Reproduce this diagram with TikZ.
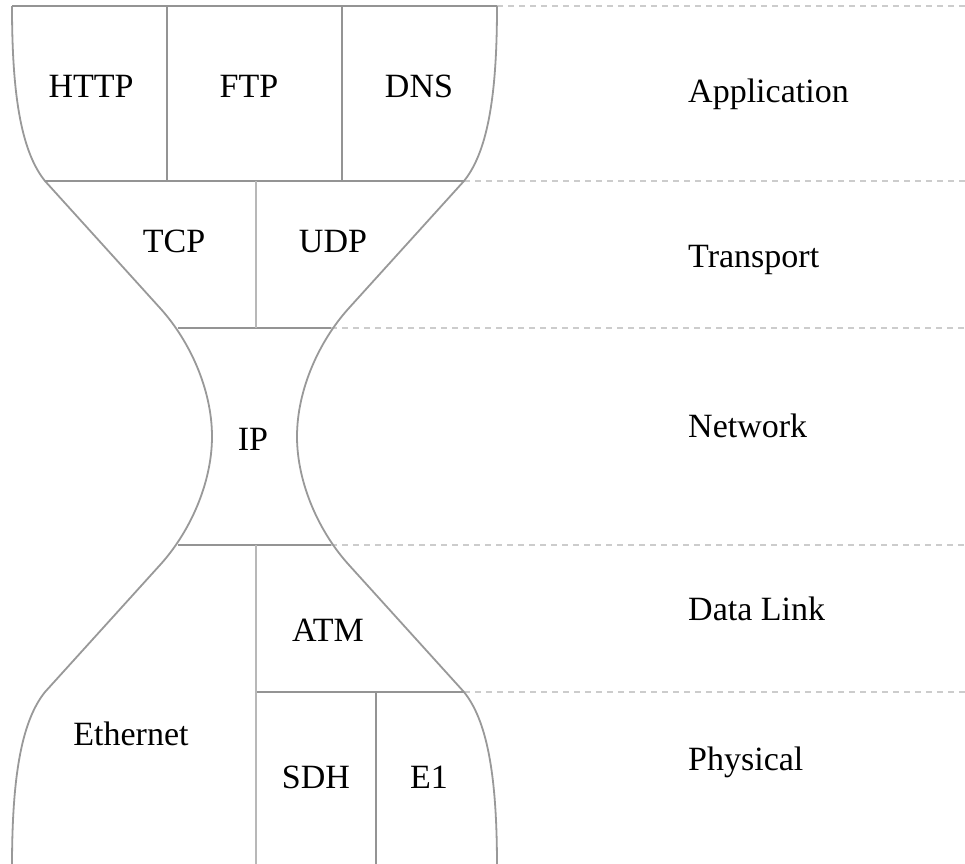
\documentclass[tikz,border=0pt]{standalone}
\usepackage{fontspec}
\setmainfont{Liberation Serif}
\begin{document}
\begin{tikzpicture}[x=1pt,y=-1pt,
  outline/.style={draw=black!40,line width=1.8pt},
  divider/.style={draw=black!42,line width=2pt},
  softdiv/.style={draw=black!28,line width=2pt},
  layerline/.style={draw=black!20,line width=1.5pt,dash pattern=on 6pt off 5pt},
  lbl/.style={font=\fontsize{34}{36}\selectfont,anchor=base,inner sep=0pt},
  layer/.style={font=\fontsize{34}{36}\selectfont,anchor=base west,inner sep=0pt}]
\useasboundingbox (0,0) rectangle (965,863);
\fill[white] (0,0) rectangle (965,863);
% named coordinates
\coordinate (tl) at (12,6);
\coordinate (tr) at (497,6);
\coordinate (a1) at (45,181);
\coordinate (a2) at (464,181);
\coordinate (t1) at (178,328);
\coordinate (t2) at (331,328);
\coordinate (d1) at (178,545);
\coordinate (d2) at (331,545);
\coordinate (p1) at (45,692);
\coordinate (p2) at (464,692);
\coordinate (R0) at (965,6);
\coordinate (R1) at (965,181);
\coordinate (R2) at (965,328);
\coordinate (R3) at (965,545);
\coordinate (R4) at (965,692);
% dashed layer lines
\draw[layerline] (tr) -- (R0);
\draw[layerline] (a2) -- (R1);
\draw[layerline] (t2) -- (R2);
\draw[layerline] (d2) -- (R3);
\draw[layerline] (p2) -- (R4);
% left outline
\draw[outline] (12,6) .. controls (12,90) and (20,150) .. (45,181)
  -- (160,308) .. controls (190,341) and (212,390) .. (212,436.5)
  .. controls (212,483) and (190,532) .. (160,565)
  -- (45,692) .. controls (20,723) and (12,783) .. (12,867);
% right outline
\draw[outline] (497,6) .. controls (497,90) and (489,150) .. (464,181)
  -- (349,308) .. controls (319,341) and (297,390) .. (297,436.5)
  .. controls (297,483) and (319,532) .. (349,565)
  -- (464,692) .. controls (489,723) and (497,783) .. (497,867);
% horizontal cell lines
\draw[divider] (tl) -- (tr);
\draw[divider] (a1) -- (a2);
\draw[divider] (t1) -- (t2);
\draw[divider] (d1) -- (d2);
\draw[divider] (256,692) -- (p2);
% vertical dividers
\draw[divider] (167,6) -- (167,181);
\draw[divider] (342,6) -- (342,181);
\draw[softdiv] (256,181) -- (256,328);
\draw[softdiv] (256,545) -- (256,867);
\draw[divider] (376,692) -- (376,867);
% protocol labels
\node[lbl] (http) at (91,97) {HTTP};
\node[lbl] (ftp) at (249,97) {FTP};
\node[lbl] (dns) at (419,97) {DNS};
\node[lbl] (tcp) at (174,252) {TCP};
\node[lbl] (udp) at (333,252) {UDP};
\node[lbl] (ip) at (253,450) {IP};
\node[lbl] (atm) at (328,641) {ATM};
\node[lbl] (eth) at (131,745) {Ethernet};
\node[lbl] (sdh) at (316,788) {SDH};
\node[lbl] (e1) at (429,788) {E1};
% layer labels
\node[layer] (app) at (688,102) {Application};
\node[layer] (trn) at (688,267) {Transport};
\node[layer] (net) at (688,437) {Network};
\node[layer] (dl) at (688,620) {Data Link};
\node[layer] (phy) at (688,770) {Physical};
\end{tikzpicture}
\end{document}
